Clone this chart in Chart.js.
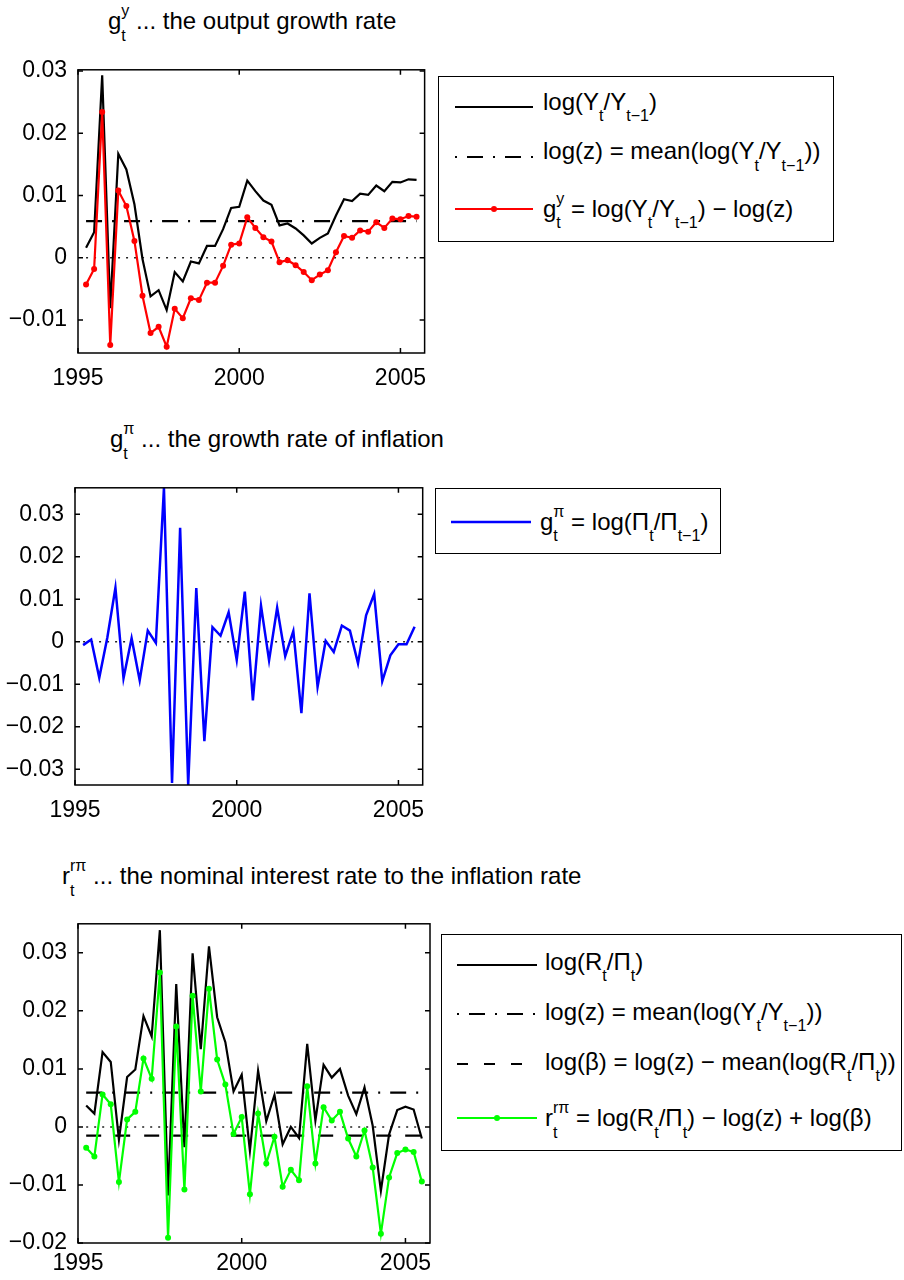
<!DOCTYPE html>
<html>
<head>
<meta charset="utf-8">
<script src="https://cdn.jsdelivr.net/npm/chart.js@4.4.1/dist/chart.umd.min.js"></script>
<style>
  body { margin: 0; background: #fff; }
  #page { position: relative; width: 904px; height: 1280px; overflow: hidden; background: #fff;
          font-family: "Liberation Sans", Arial, Helvetica, sans-serif; color: #000; }
  canvas { position: absolute; left: 0; }
  .txt { position: absolute; font-size: 24px; line-height: 24px; white-space: nowrap; }
  .sb { font-size: 0.67em; position: relative; top: 0.72em; }
  .sp { font-size: 0.67em; position: relative; top: -0.81em; }
  .st { margin-left: -0.278em; }
  .box { position: absolute; border: 1.5px solid #000; box-sizing: border-box; background: #fff; }
  .smp { position: absolute; overflow: visible; }
</style>
</head>
<body>
<div id="page">

  <!-- titles -->
  <div class="txt" style="left:108px;top:9px">g<span class="sb">t</span><span class="sp st">y</span> ... the output growth rate</div>
  <div class="txt" style="left:110px;top:427px">g<span class="sb">t</span><span class="sp st">π</span> ... the growth rate of inflation</div>
  <div class="txt" style="left:62px;top:864px">r<span class="sb">t</span><span class="sp st">rπ</span> ... the nominal interest rate to the inflation rate</div>

  <canvas id="c1" width="439" height="350" style="top:45px"></canvas>
  <canvas id="c2" width="437" height="364" style="top:463px"></canvas>
  <canvas id="c3" width="444" height="381" style="top:899px"></canvas>

  <!-- legend 1 -->
  <div class="box" style="left:438px;top:76px;width:396px;height:166px"></div>
  <svg class="smp" style="left:455px;top:100.7px" width="78" height="12"><line x1="0" y1="6" x2="78" y2="6" stroke="#000" stroke-width="2"/></svg>
  <div class="txt" style="left:543px;top:89.7px">log(Y<span class="sb">t</span>/Y<span class="sb">t−1</span>)</div>
  <svg class="smp" style="left:455px;top:150.7px" width="78" height="12"><line x1="0" y1="6" x2="78" y2="6" stroke="#000" stroke-width="2" stroke-dasharray="2 10 16 10"/></svg>
  <div class="txt" style="left:543px;top:139.2px">log(z) = mean(log(Y<span class="sb">t</span>/Y<span class="sb">t−1</span>))</div>
  <svg class="smp" style="left:455px;top:203.3px" width="78" height="12"><line x1="0" y1="6" x2="78" y2="6" stroke="#f00" stroke-width="2"/><circle cx="39" cy="6" r="3" fill="#f00"/></svg>
  <div class="txt" style="left:543px;top:196.7px">g<span class="sb">t</span><span class="sp st">y</span> = log(Y<span class="sb">t</span>/Y<span class="sb">t−1</span>) − log(z)</div>

  <!-- legend 2 -->
  <div class="box" style="left:435px;top:488px;width:286px;height:66px"></div>
  <svg class="smp" style="left:450.7px;top:515.7px" width="80" height="12"><line x1="0" y1="6" x2="80" y2="6" stroke="#00f" stroke-width="2.4"/></svg>
  <div class="txt" style="left:540px;top:509.7px">g<span class="sb">t</span><span class="sp st">π</span> = log(Π<span class="sb">t</span>/Π<span class="sb">t−1</span>)</div>

  <!-- legend 3 -->
  <div class="box" style="left:441px;top:934px;width:461px;height:217px"></div>
  <svg class="smp" style="left:456.7px;top:959px" width="80" height="12"><line x1="0" y1="6" x2="80" y2="6" stroke="#000" stroke-width="2"/></svg>
  <div class="txt" style="left:545px;top:949.7px">log(R<span class="sb">t</span>/Π<span class="sb">t</span>)</div>
  <svg class="smp" style="left:456.7px;top:1008.3px" width="80" height="12"><line x1="0" y1="6" x2="80" y2="6" stroke="#000" stroke-width="2" stroke-dasharray="2 10 16 10"/></svg>
  <div class="txt" style="left:545px;top:999.7px">log(z) = mean(log(Y<span class="sb">t</span>/Y<span class="sb">t−1</span>))</div>
  <svg class="smp" style="left:456.7px;top:1058px" width="80" height="12"><line x1="0" y1="6" x2="80" y2="6" stroke="#000" stroke-width="2" stroke-dasharray="11 16"/></svg>
  <div class="txt" style="left:545px;top:1049.7px">log(β) = log(z) − mean(log(R<span class="sb">t</span>/Π<span class="sb">t</span>))</div>
  <svg class="smp" style="left:456.7px;top:1111.7px" width="80" height="12"><line x1="0" y1="6" x2="80" y2="6" stroke="#0f0" stroke-width="2"/><circle cx="40" cy="6" r="3" fill="#0f0"/></svg>
  <div class="txt" style="left:545px;top:1106.4px">r<span class="sb">t</span><span class="sp st">rπ</span> = log(R<span class="sb">t</span>/Π<span class="sb">t</span>) − log(z) + log(β)</div>
</div>

<script>
// quarterly dates
const quarters = [
  1995.25, 1995.5, 1995.75,
  1996, 1996.25, 1996.5, 1996.75,
  1997, 1997.25, 1997.5, 1997.75,
  1998, 1998.25, 1998.5, 1998.75,
  1999, 1999.25, 1999.5, 1999.75,
  2000, 2000.25, 2000.5, 2000.75,
  2001, 2001.25, 2001.5, 2001.75,
  2002, 2002.25, 2002.5, 2002.75,
  2003, 2003.25, 2003.5, 2003.75,
  2004, 2004.25, 2004.5, 2004.75,
  2005, 2005.25, 2005.5
];

// panel 1: log(Y_t/Y_t-1) and g^y
const outputGrowth = [
  0.0016, 0.0041, 0.0293, -0.0081, 0.0167, 0.0142, 0.0086, -0.0002, -0.0062, -0.0052,
  -0.0084, -0.0023, -0.0038, -0.0006, -0.0009, 0.0019, 0.0019, 0.0046, 0.0080, 0.0082,
  0.0124, 0.0107, 0.0092, 0.0085, 0.0052, 0.0055, 0.0047, 0.0036, 0.0023, 0.0032,
  0.0039, 0.0068, 0.0094, 0.0091, 0.0103, 0.0101, 0.0116, 0.0107, 0.0122, 0.0121,
  0.0126, 0.0125
];
const outputGap = [
  -0.0043, -0.0018, 0.0234, -0.0140, 0.0108, 0.0083, 0.0027, -0.0061, -0.0121, -0.0111,
  -0.0143, -0.0082, -0.0097, -0.0065, -0.0068, -0.0040, -0.0040, -0.0013, 0.0021, 0.0023,
  0.0065, 0.0048, 0.0033, 0.0026, -0.0007, -0.0004, -0.0012, -0.0023, -0.0036, -0.0027,
  -0.0020, 0.0009, 0.0035, 0.0032, 0.0044, 0.0042, 0.0057, 0.0048, 0.0063, 0.0062,
  0.0067, 0.0066
];
const logZ = 0.0059;

// panel 2: g^pi
const inflationGrowth = [
  -0.0008, 0.0005, -0.0085, 0.0010, 0.0127, -0.0086, 0.0008, -0.0091, 0.0026, -0.0003,
  0.0362, -0.0332, 0.0268, -0.0337, 0.0126, -0.0234, 0.0034, 0.0014, 0.0069, -0.0043,
  0.0118, -0.0138, 0.0085, -0.0044, 0.0080, -0.0034, 0.0025, -0.0168, 0.0114, -0.0106,
  0.0002, -0.0024, 0.0038, 0.0026, -0.0051, 0.0062, 0.0112, -0.0093, -0.0032, -0.0006,
  -0.0006, 0.0035
];

// panel 3: log(R_t/Pi_t) and r^{r pi}
const realRate = [
  0.0037, 0.0023, 0.0129, 0.0112, -0.0022, 0.0086, 0.0099, 0.0191, 0.0156, 0.0339,
  -0.0118, 0.0246, -0.0035, 0.0299, 0.0134, 0.0311, 0.0189, 0.0146, 0.0061, 0.0090,
  -0.0041, 0.0097, 0.0010, 0.0055, -0.0030, 0.0000, -0.0019, 0.0143, 0.0011, 0.0107,
  0.0085, 0.0100, 0.0054, 0.0022, 0.0068, 0.0002, -0.0110, -0.0013, 0.0029, 0.0035,
  0.0030, -0.0020
];
const realRateAdj = [
  -0.0036, -0.0051, 0.0056, 0.0039, -0.0095, 0.0013, 0.0026, 0.0118, 0.0083, 0.0266,
  -0.0191, 0.0173, -0.0108, 0.0226, 0.0061, 0.0238, 0.0116, 0.0073, -0.0012, 0.0017,
  -0.0116, 0.0023, -0.0063, -0.0017, -0.0103, -0.0074, -0.0092, 0.0070, -0.0063, 0.0034,
  0.0011, 0.0026, -0.0020, -0.0051, -0.0006, -0.0070, -0.0184, -0.0087, -0.0045, -0.0039,
  -0.0043, -0.0094
];
const logBeta = -0.0015;

// ticks
const xTicks = [1995, 2000, 2005];
const xTickLabels = ["1995", "2000", "2005"];
const yTicks1 = [-0.01, 0, 0.01, 0.02, 0.03];
const yTickLabels1 = ["\u22120.01", "0", "0.01", "0.02", "0.03"];
const yTicks2 = [-0.03, -0.02, -0.01, 0, 0.01, 0.02, 0.03];
const yTickLabels2 = ["\u22120.03", "\u22120.02", "\u22120.01", "0", "0.01", "0.02", "0.03"];
const yTicks3 = [-0.02, -0.01, 0, 0.01, 0.02, 0.03];
const yTickLabels3 = ["\u22120.02", "\u22120.01", "0", "0.01", "0.02", "0.03"];

const FONT = "'Liberation Sans', Arial, Helvetica, sans-serif";
Chart.defaults.font.family = FONT;
Chart.defaults.color = "#000";

const dashDot = [16, 10, 2, 10];
const dashed = [15, 14];
const dotted = [2, 6];

function series(values){
    return quarters.map((q, i) => ({x: q, y: values[i]}));
}

function hline(value){
    return [{x: quarters[0], y: value}, {x: quarters[quarters.length - 1], y: value}];
}

// box round the axes with inward ticks on all four sides
const boxPlugin = {
    id: "matlabBox",
    afterDraw(chart){
        const {ctx, chartArea: a, scales} = chart;
        const len = 5;
        ctx.save();
        ctx.strokeStyle = "#000";
        ctx.lineWidth = 1.5;
        ctx.beginPath();
        scales.x.ticks.forEach(t => {
            const px = scales.x.getPixelForValue(t.value);
            ctx.moveTo(px, a.bottom); ctx.lineTo(px, a.bottom - len);
            ctx.moveTo(px, a.top); ctx.lineTo(px, a.top + len);
        });
        scales.y.ticks.forEach(t => {
            const py = scales.y.getPixelForValue(t.value);
            ctx.moveTo(a.left, py); ctx.lineTo(a.left + len, py);
            ctx.moveTo(a.right, py); ctx.lineTo(a.right - len, py);
        });
        ctx.stroke();
        ctx.strokeRect(a.left, a.top, a.right - a.left, a.bottom - a.top);
        ctx.restore();
    }
};

function makeChart(id, yWidth, xHeight, xPad, yMin, yMax, yTicks, yLabels, datasets){

    return new Chart(document.getElementById(id), {
        type: "line",
        data: { datasets },
        options: {
            responsive: false,
            animation: false,
            layout: { padding: { top: 14, right: 14, left: 0, bottom: 0 } },
            plugins: { legend: { display: false }, tooltip: { enabled: false } },
            elements: { line: { tension: 0 } },
            scales: {
                x: {
                    type: "linear",
                    min: 1995,
                    max: 2005.75,
                    afterBuildTicks: s => { s.ticks = xTicks.map(v => ({value: v})); },
                    afterFit: s => { s.height = xHeight; },
                    grid: { display: false, drawTicks: false },
                    border: { display: false },
                    ticks: {
                        autoSkip: false, maxRotation: 0, padding: xPad,
                        font: { size: 23 },
                        callback: v => xTickLabels[xTicks.indexOf(v)]
                    }
                },
                y: {
                    min: yMin,
                    max: yMax,
                    afterBuildTicks: s => { s.ticks = yTicks.map(v => ({value: v})); },
                    afterFit: s => { s.width = yWidth; },
                    grid: { display: false, drawTicks: false },
                    border: { display: false },
                    ticks: {
                        autoSkip: false, padding: 11,
                        font: { size: 23 },
                        callback: v => yLabels[yTicks.indexOf(v)]
                    }
                }
            }
        },
        plugins: [boxPlugin]
    });
}

const plain = { pointRadius: 0, borderWidth: 2.2, clip: 0 };

makeChart("c1", 78, 42, 12, -0.0153, 0.0302, yTicks1, yTickLabels1, [
    { ...plain, data: series(outputGap), borderColor: "#ff0000", pointRadius: 3,
      pointBackgroundColor: "#ff0000", pointBorderWidth: 0, order: 0 },
    { ...plain, data: series(outputGrowth), borderColor: "#000", order: 2 },
    { ...plain, data: hline(logZ), borderColor: "#000", borderDash: dashDot, order: 1 },
    { ...plain, data: hline(0), borderColor: "#222", borderWidth: 1.5, borderDash: dotted, order: 3 }
]);

makeChart("c2", 75, 42, 12, -0.0337, 0.0362, yTicks2, yTickLabels2, [
    { ...plain, data: series(inflationGrowth), borderColor: "#0000ff", borderWidth: 2.5, order: 0 },
    { ...plain, data: hline(0), borderColor: "#222", borderWidth: 1.5, borderDash: dotted, order: 1 }
]);

makeChart("c3", 78, 37, 7, -0.02, 0.035, yTicks3, yTickLabels3, [
    { ...plain, data: series(realRateAdj), borderColor: "#00ff00", pointRadius: 3,
      pointBackgroundColor: "#00ff00", pointBorderWidth: 0, order: 0 },
    { ...plain, data: hline(logBeta), borderColor: "#000", borderDash: dashed, order: 1 },
    { ...plain, data: hline(logZ), borderColor: "#000", borderDash: dashDot, order: 2 },
    { ...plain, data: series(realRate), borderColor: "#000", order: 3 },
    { ...plain, data: hline(0), borderColor: "#222", borderWidth: 1.5, borderDash: dotted, order: 4 }
]);
</script>
</body>
</html>
